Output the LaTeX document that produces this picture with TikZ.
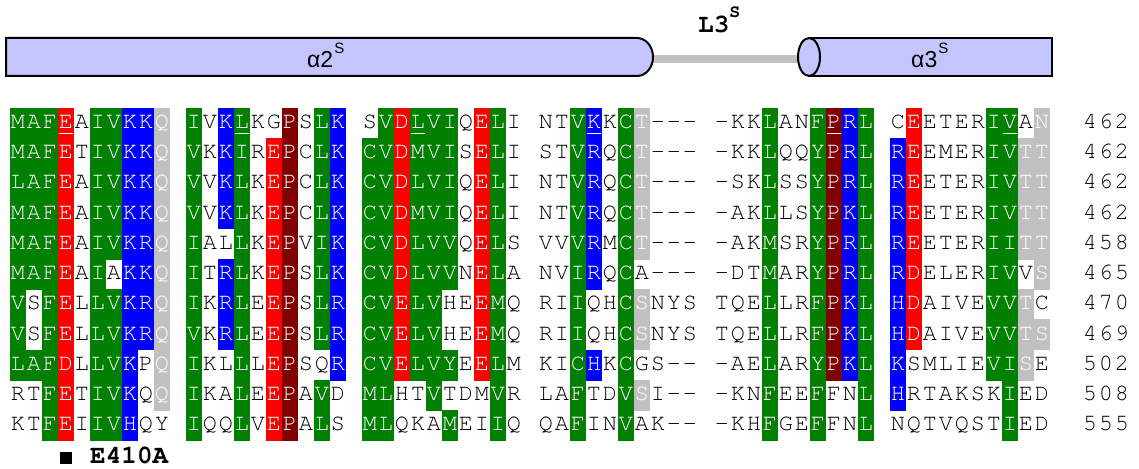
\documentclass[tikz,border=0pt]{standalone}
\usepackage{fontspec}
\newfontfamily\seqfont{TeX Gyre Cursor}
\newfontfamily\lblfont{Liberation Sans}
\definecolor{sqgreen}{RGB}{0,128,0}
\definecolor{sqred}{RGB}{255,0,0}
\definecolor{sqblue}{RGB}{0,0,255}
\definecolor{sqmaroon}{RGB}{128,0,0}
\definecolor{sqsilver}{RGB}{192,192,192}
\definecolor{barfill}{RGB}{196,196,255}
\tikzset{
  seqchar/.style={anchor=base,inner sep=0pt,outer sep=0pt,font=\seqfont\fontsize{23.5}{23.5}\selectfont},
  helix/.style={draw=black,line width=2pt,fill=barfill},
  l3line/.style={draw=sqsilver,line width=7.5pt},
  lbl/.style={anchor=base west,inner sep=0pt,font=\lblfont\fontsize{23}{23}\selectfont},
  boldlbl/.style={anchor=base west,inner sep=0pt,font=\seqfont\bfseries\fontsize{26}{26}\selectfont}
}
\newcount\sqi
\newcount\sqx
\let\stopp\relax
\def\doseq#1#2\stopp#3#4\stopp{%
  \drawcell{#1}{#3}%
  \advance\sqi by 1\relax
  \ifx\relax#2\relax\else\doseq#2\stopp#4\stopp\fi}
\def\drawcell#1#2{%
  \ifx.#1\else
    \sqx=\numexpr10+16*\sqi\relax
    \csname sqc#2\endcsname{#1}%
  \fi}
\def\sqcbox#1#2{%
  \fill[fill=#1] (\the\sqx-0.3,\rowtop+0.3) rectangle (\the\sqx+16.3,\rowtop-30.55);
  \node[seqchar,text=white] (n\rowidx-\the\sqi) at (\the\sqx+8,\rowbase) {#2};}
\def\sqcul{\draw[white,line width=1.3pt] (\the\sqx+1,\rowul) -- (\the\sqx+15,\rowul);}
\def\sqcw#1{\node[seqchar,text=black] (n\rowidx-\the\sqi) at (\the\sqx+8,\rowbase) {#1};}
\def\sqcg#1{\sqcbox{sqgreen}{#1}}
\def\sqcr#1{\sqcbox{sqred}{#1}}
\def\sqcb#1{\sqcbox{sqblue}{#1}}
\def\sqcm#1{\sqcbox{sqmaroon}{#1}}
\def\sqcs#1{\sqcbox{sqsilver}{#1}}
\def\sqcG#1{\sqcbox{sqgreen}{#1}\sqcul}
\def\sqcR#1{\sqcbox{sqred}{#1}\sqcul}
\def\sqcB#1{\sqcbox{sqblue}{#1}\sqcul}
\def\sqcM#1{\sqcbox{sqmaroon}{#1}\sqcul}
\newcommand\seqrow[3]{%
  \def\rowidx{#1}%
  \pgfmathsetmacro\rowtop{360-30.25*#1}%
  \pgfmathsetmacro\rowbase{\rowtop-20.3}%
  \pgfmathsetmacro\rowul{\rowtop-25.6}%
  \sqi=0\relax
  \doseq#2\stopp#3\stopp}
\begin{document}
\begin{tikzpicture}[x=1pt,y=1pt]
\useasboundingbox (0,0) rectangle (1139,468);
% secondary structure
\coordinate (l3a) at (650,409);
\coordinate (l3b) at (800,409);
\draw[l3line] (l3a) -- (l3b);
\draw[helix] (6,430) -- (637,430) arc[start angle=90,end angle=-90,x radius=16,y radius=19] -- (6,392) -- cycle;
\draw[helix] (809,430) -- (1052,430) -- (1052,392) -- (809,392);
\draw[helix] (809,411) ellipse[x radius=11,y radius=19];
\node[lbl] (a2lab) at (307,400) {α2\kern1pt\raisebox{14pt}{\fontsize{15}{15}\selectfont S}};
\node[lbl] (a3lab) at (911,400) {α3\kern1pt\raisebox{14pt}{\fontsize{15}{15}\selectfont S}};
\node[boldlbl] (l3lab) at (698,435) {L3\raisebox{15pt}{\fontsize{18}{18}\selectfont S}};
% alignment
\seqrow{0}{MAFEAIVKKQ.IVKLKGPSLK.SVDLVIQELI.NTVKKCT---.-KKLANFPRL.CEETERIVAN..462}{gggRwggbbs.gwbGwwmwgb.wgrGggwrgw.wwgBwgswww.wwwgwwgMbg.wrwwwwgGws..www}
\seqrow{1}{MAFETIVKKQ.VKKIREPCLK.CVDMVISELI.STVRQCT---.-KKLQQYPRL.REEMERIVTT..462}{gggrwggbbs.gwbgwrmwgb.ggrgggwrgw.wwgbwgswww.wwwgwwgmbg.brwwwwggss..www}
\seqrow{2}{LAFEAIVKKQ.VVKLKEPCLK.CVDLVIQELI.NTVRQCT---.-SKLSSYPRL.REETERIVTT..462}{gggrwggbbs.gwbgwrmwgb.ggrgggwrgw.wwgbwgswww.wwwgwwgmbg.brwwwwggss..www}
\seqrow{3}{MAFEAIVKKQ.VVKLKEPCLK.CVDMVIQELI.NTVRQCT---.-AKLLSYPKL.REETERIVTT..462}{gggrwggbbs.gwbgwrmwgb.ggrgggwrgw.wwgbwgswww.wwwgwwgmbg.brwwwwggss..www}
\seqrow{4}{MAFEAIVKRQ.IALLKEPVIK.CVDLVVQELS.VVVRMCT---.-AKMSRYPRL.REETERIITT..458}{gggrwggbbs.gwwgwrmwgb.ggrgggwrgw.wwgbwgswww.wwwgwwgmbg.brwwwwggss..www}
\seqrow{5}{MAFEAIAKKQ.ITRLKEPSLK.CVDLVVNELA.NVIRQCA---.-DTMARYPRL.RDELERIVVS..465}{gggrwgwbbs.gwbgwrmwgb.ggrgggwrgw.wwgbwgwwww.wwwgwwgmbg.brwwwwggws..www}
\seqrow{6}{VSFELLVKRQ.IKRLEEPSLR.CVELVHEEMQ.RIIQHCSNYS.TQELLRFPKL.HDAIVEVVTC..470}{gwgrwggbbs.gwbgwrmwgb.ggrggwwrgw.wwgwwgswww.wwwgwwgmbg.brwwwwggsw..www}
\seqrow{7}{VSFELLVKRQ.VKRLEEPSLR.CVELVHEEMQ.RIIQHCSNYS.TQELLRFPKL.HDAIVEVVTS..469}{gwgrwggbbs.gwbgwrmwgb.ggrggwwrgw.wwgwwgswww.wwwgwwgmbg.brwwwwggss..www}
\seqrow{8}{LAFDLLVKPQ.IKLLLEPSQR.CVELVYEELM.KICHKCGS--.-AELARYPKL.KSMLIEVISE..502}{gggrwggbws.gwwgwrmwwb.ggrgggwrgw.wwgbwgwwww.wwwgwwgmbg.bwwwwwggsw..www}
\seqrow{9}{RTFETIVKQQ.IKALEEPAVD.MLHTVTDMVR.LAFTDVSI--.-KNFEEFFNL.HRTAKSKIED..508}{wwgrwggbws.gwwgwrmwgw.ggwwgwwwgw.wwgwwgswww.wwwgwwgwwg.bwwwwwwgww..www}
\seqrow{10}{KTFEIIVHQY.IQQLVEPALS.MLQKAMEIIQ.QAFINVAK--.-KHFGEFFNL.NQTVQSTIED..555}{wwgrwggbww.gwwgwrmwgw.ggwwwgwwgw.wwgwwgwwww.wwwgwwgwwg.wwwwwwwgww..www}
% legend
\node[fill=black,minimum size=12pt,inner sep=0pt] (sq) at (66,10.5) {};
\node[boldlbl] (mut) at (90,4.5) {E410A};
\end{tikzpicture}
\end{document}
